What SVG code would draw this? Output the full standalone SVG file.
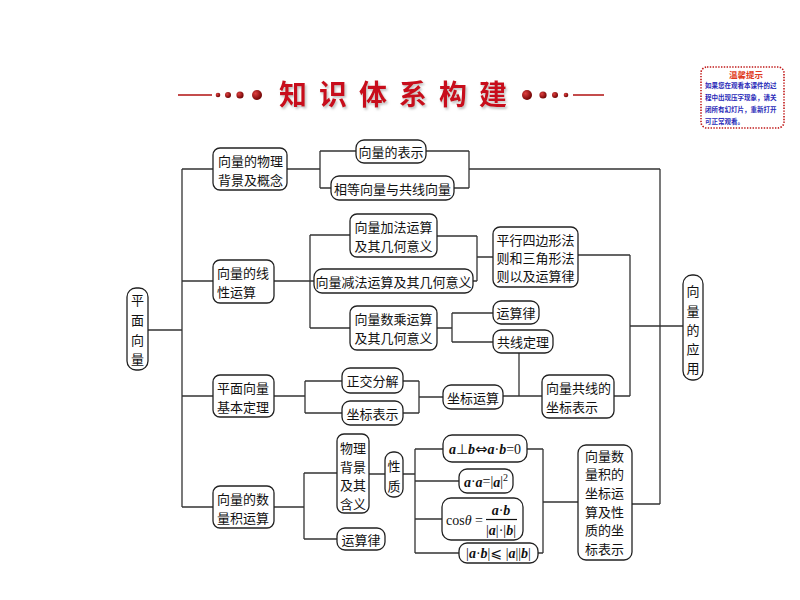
<svg xmlns="http://www.w3.org/2000/svg" width="800" height="600" viewBox="0 0 800 600">
<defs>
<style>
.b{fill:#fff;stroke:#222;stroke-width:1.3}
.t{font-family:"Noto Sans CJK SC","Noto Sans",sans-serif;font-size:13px;fill:#111;dominant-baseline:central}
.c{text-anchor:middle}
.ln{fill:none;stroke:#333;stroke-width:1.3}
.m{font-family:"Liberation Serif",serif;font-size:14px;fill:#111;dominant-baseline:central}
.v{font-weight:bold;font-style:italic}
.sym{font-family:"DejaVu Sans",sans-serif}
.ttl{font-family:"Noto Sans CJK SC",sans-serif;font-size:28px;font-weight:bold;fill:#c8101a;letter-spacing:12px}
</style>
<radialGradient id="dot" cx="0.35" cy="0.35" r="0.7">
<stop offset="0" stop-color="#e04040"/>
<stop offset="1" stop-color="#6a0000"/>
</radialGradient>
<filter id="sh" x="-10%" y="-20%" width="120%" height="150%">
<feDropShadow dx="1.5" dy="2" stdDeviation="1.2" flood-color="#999" flood-opacity="0.6"/>
</filter>
</defs>
<rect width="800" height="600" fill="#fff"/>

<g id="title">
<line x1="178" y1="95" x2="212" y2="95" stroke="#b01010" stroke-width="1.5"/>
<circle cx="218" cy="95" r="2.3" fill="url(#dot)"/>
<circle cx="228" cy="95" r="3" fill="url(#dot)"/>
<circle cx="240" cy="95" r="3.6" fill="url(#dot)"/>
<circle cx="257" cy="95" r="5" fill="url(#dot)"/>
<text class="ttl" x="279" y="105" filter="url(#sh)">知识体系构建</text>
<circle cx="527" cy="95" r="5" fill="url(#dot)"/>
<circle cx="543" cy="95" r="3.6" fill="url(#dot)"/>
<circle cx="555" cy="95" r="3" fill="url(#dot)"/>
<circle cx="566" cy="95" r="2.3" fill="url(#dot)"/>
<line x1="573" y1="95" x2="604" y2="95" stroke="#b01010" stroke-width="1.5"/>
</g>

<g id="notice">
<rect x="701" y="67" width="83" height="61" rx="6" fill="#fff" stroke="#c01818" stroke-width="1.6" stroke-dasharray="1.4 1.4"/>
<text x="746" y="74" text-anchor="middle" font-family="Noto Sans CJK SC,sans-serif" font-size="8.5" font-weight="bold" fill="#e03a20" dominant-baseline="central">温馨提示</text>
<g font-family="Noto Sans CJK SC,sans-serif" font-size="6.5" fill="#2a2ab8" font-weight="bold">
<text x="705" y="88">如果您在观看本课件的过</text>
<text x="705" y="100">程中出现压字现象，请关</text>
<text x="705" y="112">闭所有幻灯片，重新打开</text>
<text x="705" y="124">可正常观看。</text>
</g>
</g>

<g id="connectors">
<path class="ln" d="M182 169V507M182 169H213M182 281H213M182 396H213M182 507H213M148 330H182"/>
<path class="ln" d="M287 169H320M320 151V188M320 151H356M320 188H331"/>
<path class="ln" d="M426 151H469M454 188H469M469 151V188M469 169H660M660 169V504M632 504H660"/>
<path class="ln" d="M274 281H310M310 235V328M310 235H350M310 281H314M310 328H350"/>
<path class="ln" d="M437 236H477M477 236V281M473 281H477M477 257H493"/>
<path class="ln" d="M578 255H630M630 255V396M614 396H630M630 326H683"/>
<path class="ln" d="M437 328H452M452 313V342M452 313H493M452 342H493"/>
<path class="ln" d="M519 353V396M503 396H542"/>
<path class="ln" d="M274 396H305M305 381V413M305 381H342M305 413H342"/>
<path class="ln" d="M403 381H419M403 413H419M419 381V413M419 397H443"/>
<path class="ln" d="M274 507H304M304 473V539M304 473H337M304 539H337M369 474H385"/>
<path class="ln" d="M403 474H415M415 449V553M415 449H443M415 481H459M415 519H442M415 553H459"/>
<path class="ln" d="M527 449H543M538 553H543M543 449V553M543 502H578"/>
</g>

<g id="n-pingmianxiangliang">
<rect class="b" x="127" y="288" width="21" height="82" rx="9"/>
<text class="t c" x="137.5" y="299">平</text>
<text class="t c" x="137.5" y="319">面</text>
<text class="t c" x="137.5" y="339">向</text>
<text class="t c" x="137.5" y="358">量</text>
</g>

<g id="n-wuli">
<rect class="b" x="213" y="148" width="74" height="42" rx="7"/>
<text class="t" x="218" y="160">向量的物理</text>
<text class="t" x="218" y="179">背景及概念</text>
</g>
<g id="n-biaoshi">
<rect class="b" x="356" y="140" width="70" height="23" rx="8"/>
<text class="t c" x="391" y="151.5">向量的表示</text>
</g>
<g id="n-xiangdeng">
<rect class="b" x="331" y="176" width="123" height="24" rx="8"/>
<text class="t c" x="392.5" y="188">相等向量与共线向量</text>
</g>

<g id="n-xianxing">
<rect class="b" x="213" y="260" width="61" height="43" rx="7"/>
<text class="t" x="217" y="272">向量的线</text>
<text class="t" x="217" y="291">性运算</text>
</g>
<g id="n-jiafa">
<rect class="b" x="350" y="214" width="87" height="43" rx="7"/>
<text class="t c" x="393.5" y="226.5">向量加法运算</text>
<text class="t c" x="393.5" y="245.5">及其几何意义</text>
</g>
<g id="n-jianfa">
<rect class="b" x="314" y="269" width="159" height="24" rx="8"/>
<text class="t c" x="393.5" y="281">向量减法运算及其几何意义</text>
</g>
<g id="n-shucheng">
<rect class="b" x="350" y="306" width="87" height="44" rx="7"/>
<text class="t c" x="393.5" y="318">向量数乘运算</text>
<text class="t c" x="393.5" y="337">及其几何意义</text>
</g>
<g id="n-pingxing">
<rect class="b" x="493" y="227" width="85" height="60" rx="7"/>
<text class="t c" x="535.5" y="239.5">平行四边形法</text>
<text class="t c" x="535.5" y="257.5">则和三角形法</text>
<text class="t c" x="535.5" y="275.5">则以及运算律</text>
</g>
<g id="n-yunsuanlv1">
<rect class="b" x="493" y="301" width="46" height="23" rx="8"/>
<text class="t c" x="516" y="312.5">运算律</text>
</g>
<g id="n-gongxian">
<rect class="b" x="493" y="330" width="60" height="23" rx="8"/>
<text class="t c" x="523" y="341.5">共线定理</text>
</g>
<g id="n-gongxianzuobiao">
<rect class="b" x="542" y="375" width="72" height="43" rx="7"/>
<text class="t" x="546" y="387">向量共线的</text>
<text class="t" x="546" y="406">坐标表示</text>
</g>

<g id="n-jiben">
<rect class="b" x="213" y="375" width="61" height="42" rx="7"/>
<text class="t" x="217" y="387">平面向量</text>
<text class="t" x="217" y="406">基本定理</text>
</g>
<g id="n-zhengjiao">
<rect class="b" x="342" y="368" width="61" height="25" rx="8"/>
<text class="t c" x="372.5" y="380.5">正交分解</text>
</g>
<g id="n-zuobiaobiaoshi">
<rect class="b" x="342" y="401" width="61" height="24" rx="8"/>
<text class="t c" x="372.5" y="413">坐标表示</text>
</g>
<g id="n-zuobiaoyunsuan">
<rect class="b" x="443" y="385" width="60" height="24" rx="8"/>
<text class="t c" x="473" y="397">坐标运算</text>
</g>

<g id="n-shuliangji">
<rect class="b" x="213" y="486" width="61" height="42" rx="7"/>
<text class="t" x="217" y="498">向量的数</text>
<text class="t" x="217" y="517">量积运算</text>
</g>
<g id="n-wulibeijing">
<rect class="b" x="337" y="434" width="32" height="79" rx="7"/>
<text class="t c" x="353" y="447">物理</text>
<text class="t c" x="353" y="466">背景</text>
<text class="t c" x="353" y="484.5">及其</text>
<text class="t c" x="353" y="503">含义</text>
</g>
<g id="n-yunsuanlv2">
<rect class="b" x="337" y="528" width="48" height="22" rx="8"/>
<text class="t c" x="361" y="539">运算律</text>
</g>
<g id="n-xingzhi">
<rect class="b" x="385" y="452" width="18" height="45" rx="8"/>
<text class="t c" x="394" y="465">性</text>
<text class="t c" x="394" y="485">质</text>
</g>

<g id="n-f1">
<rect class="b" x="443" y="435" width="84" height="27" rx="9"/>
<text class="m" x="485" y="449" text-anchor="middle"><tspan class="v">a</tspan>⊥<tspan class="v">b</tspan><tspan class="sym" font-size="15">⇔</tspan><tspan class="v">a</tspan>·<tspan class="v">b</tspan>=0</text>
</g>
<g id="n-f2">
<rect class="b" x="459" y="469" width="54" height="24" rx="8"/>
<text class="m" x="486" y="481.5" text-anchor="middle"><tspan class="v">a</tspan>·<tspan class="v">a</tspan>=|<tspan class="v">a</tspan>|<tspan font-size="10" dy="-5">2</tspan></text>
</g>
<g id="n-f3">
<rect class="b" x="442" y="498" width="81" height="42" rx="9"/>
<text class="m" x="446" y="520">cos<tspan font-style="italic">θ</tspan> =</text>
<text class="m" x="501" y="510" text-anchor="middle"><tspan class="v">a</tspan>·<tspan class="v">b</tspan></text>
<line x1="486" y1="519.5" x2="517" y2="519.5" stroke="#111" stroke-width="1.2"/>
<text class="m" x="501" y="530" text-anchor="middle">|<tspan class="v">a</tspan>|·|<tspan class="v">b</tspan>|</text>
</g>
<g id="n-f4">
<rect class="b" x="459" y="543" width="79" height="20" rx="8"/>
<text class="m" x="498.5" y="553" text-anchor="middle">|<tspan class="v">a</tspan>·<tspan class="v">b</tspan>|<tspan class="sym">⩽</tspan> |<tspan class="v">a</tspan>||<tspan class="v">b</tspan>|</text>
</g>

<g id="n-zuobiaoxingzhi">
<rect class="b" x="578" y="445" width="54" height="115" rx="8"/>
<text class="t" x="585" y="455">向量数</text>
<text class="t" x="585" y="473.5">量积的</text>
<text class="t" x="585" y="492">坐标运</text>
<text class="t" x="585" y="511">算及性</text>
<text class="t" x="585" y="529.5">质的坐</text>
<text class="t" x="585" y="548">标表示</text>
</g>

<g id="n-yingyong">
<rect class="b" x="683" y="275" width="20" height="105" rx="9"/>
<text class="t c" x="693" y="290">向</text>
<text class="t c" x="693" y="310">量</text>
<text class="t c" x="693" y="329">的</text>
<text class="t c" x="693" y="348">应</text>
<text class="t c" x="693" y="367">用</text>
</g>
</svg>
